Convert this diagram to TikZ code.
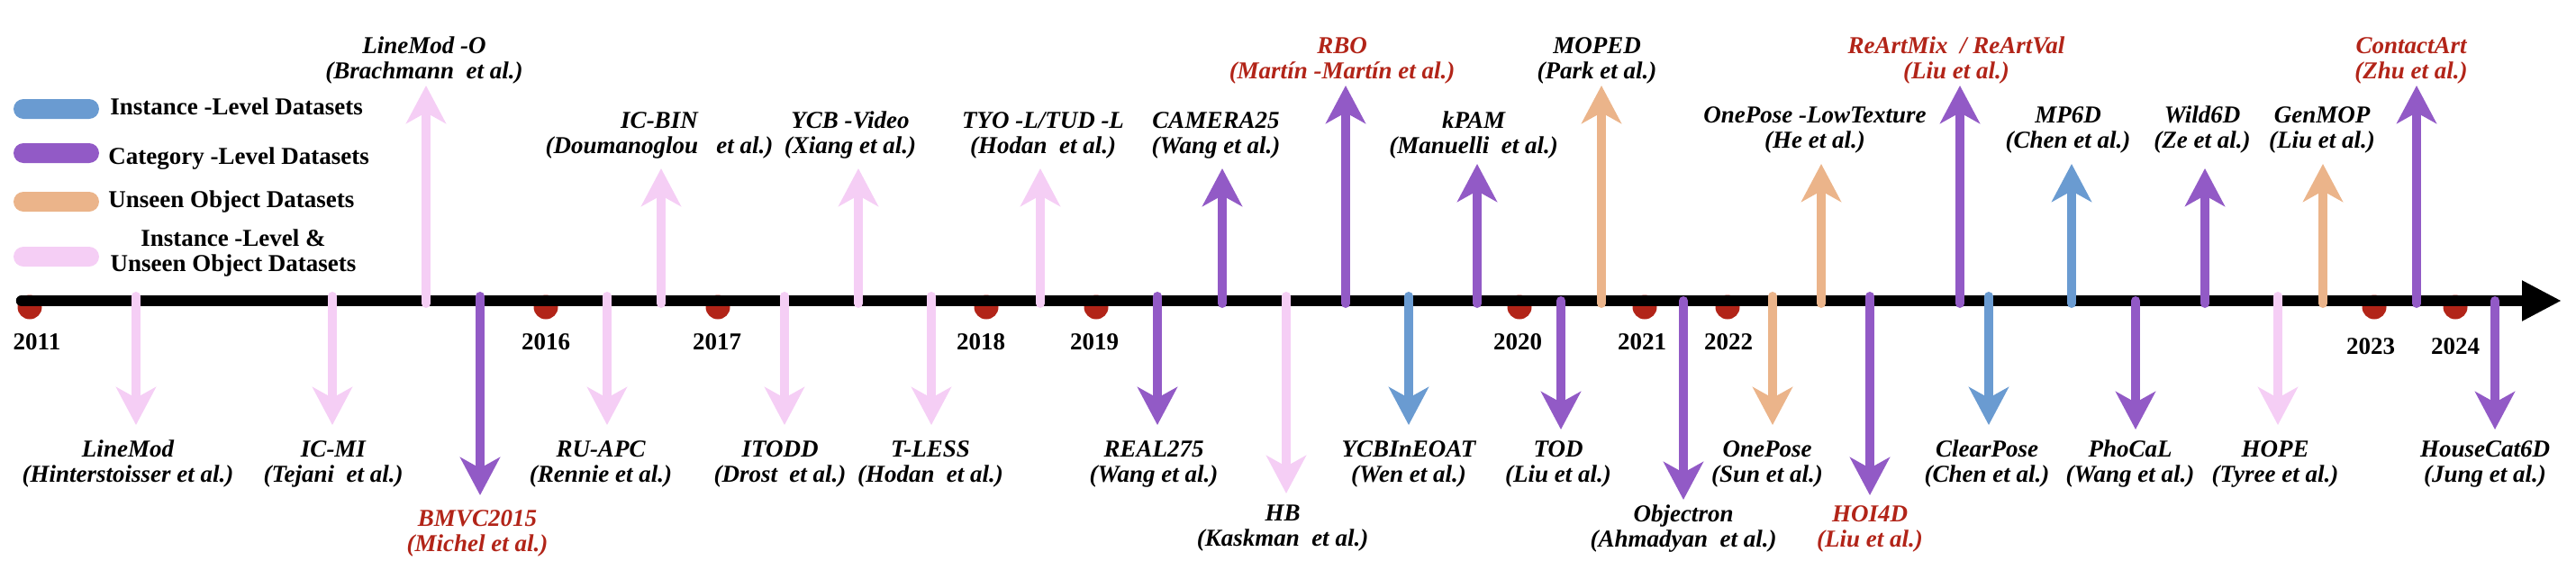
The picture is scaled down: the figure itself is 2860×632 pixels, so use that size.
\documentclass[tikz,border=0pt]{standalone}
\usepackage{fontspec}
\setmainfont{Liberation Serif}
\usetikzlibrary{arrows.meta}
\definecolor{cblue}{HTML}{6A9BD1}
\definecolor{cpurple}{HTML}{925AC6}
\definecolor{corange}{HTML}{EBB48A}
\definecolor{cpink}{HTML}{F5CEF5}
\definecolor{cred}{HTML}{B22418}
\newcommand\DSarrow[5]{%
  \coordinate (#1-b) at (#2,#3);
  \coordinate (#1-t) at (#2,#4);
  \draw[arr,color=#5] (#1-b) -- (#1-t);}
\newcommand\DSlabel[5]{%
  \node[lbl,text=#4] (#1) at (#2,#3) {#5};}
\tikzset{
  arr/.style={line width=5pt, line cap=round, -{Stealth[length=21pt,width=22pt,inset=6pt]}},
  lbl/.style={font=\bfseries\itshape\fontsize{13.5}{14}\selectfont, align=center, inner sep=0pt},
  yr/.style={font=\bfseries\fontsize{13.5}{14}\selectfont, inner sep=0pt},
  leg/.style={font=\bfseries\fontsize{13.5}{14}\selectfont, inner sep=0pt},
  pill/.style={minimum width=47.5pt, minimum height=11pt, rounded corners=5.5pt, inner sep=0pt},
  dot/.style={circle, fill=cred, minimum size=13.5pt, inner sep=0pt},
}
\begin{document}
\begin{tikzpicture}[x=0.5pt,y=-0.5pt]
\useasboundingbox (0,0) rectangle (2860,632);
% year dots
\foreach \n/\x in {d11/33,d16/606,d17/797,d18/1095,d19/1217,d20/1687,d21/1826,d22/1918,d23/2636,d24/2726}
  \node[dot] (\n) at (\x,341) {};
% timeline bar
\coordinate (barL) at (24,334);
\coordinate (barR) at (2844,334);
\draw[line width=6.25pt, line cap=round, -{Triangle[length=22pt,width=21pt]}] (barL) -- (barR);
% years
\foreach \n/\x/\y/\t in {y11/41/380/2011,y16/606/380/2016,y17/796/380/2017,y18/1089/380/2018,y19/1215/380/2019,y20/1685/380/2020,y21/1823/380/2021,y22/1919/380/2022,y23/2632/385/2023,y24/2726/385/2024}
  \node[yr] (\n) at (\x,\y) {\t};
% legend
\node[pill,fill=cblue] (p1) at (62.5,121) {};
\node[pill,fill=cpurple] (p2) at (62.5,170) {};
\node[pill,fill=corange] (p3) at (62.5,224) {};
\node[pill,fill=cpink] (p4) at (62.5,285) {};
\node[leg,anchor=base west] (l1) at (122,127) {Instance -Level Datasets};
\node[leg,anchor=base west] (l2) at (120,182) {Category -Level Datasets};
\node[leg,anchor=base west] (l3) at (120,230) {Unseen Object Datasets};
\node[leg,align=center] (l4) at (259,281) {Instance -Level \&\\Unseen Object Datasets};
% downward arrows
\DSarrow{linemod}{151}{329}{472}{cpink}
\DSarrow{icmi}{369}{329}{472}{cpink}
\DSarrow{bmvc}{533}{329}{550}{cpurple}
\DSarrow{ruapc}{674}{329}{472}{cpink}
\DSarrow{itodd}{871}{329}{472}{cpink}
\DSarrow{tless}{1034}{329}{472}{cpink}
\DSarrow{real}{1285}{329}{472}{cpurple}
\DSarrow{hb}{1428}{329}{548}{cpink}
\DSarrow{ycbin}{1564}{329}{472}{cblue}
\DSarrow{tod}{1733}{334}{477}{cpurple}
\DSarrow{objectron}{1869}{334}{555}{cpurple}
\DSarrow{onepose}{1968}{329}{472}{corange}
\DSarrow{hoi}{2076}{329}{550}{cpurple}
\DSarrow{clearpose}{2208}{329}{472}{cblue}
\DSarrow{phocal}{2371}{334}{477}{cpurple}
\DSarrow{hope}{2529}{329}{472}{cpink}
\DSarrow{housecat}{2770}{334}{477}{cpurple}
% upward arrows
\DSarrow{linemodo}{473}{337}{95}{cpink}
\DSarrow{icbin}{734}{337}{187}{cpink}
\DSarrow{ycbv}{953}{337}{187}{cpink}
\DSarrow{tyo}{1155}{337}{187}{cpink}
\DSarrow{camera}{1357}{337}{187}{cpurple}
\DSarrow{rbo}{1494}{337}{95}{cpurple}
\DSarrow{kpam}{1640}{337}{182}{cpurple}
\DSarrow{moped}{1778}{337}{95}{corange}
\DSarrow{oneposelt}{2022}{337}{182}{corange}
\DSarrow{reart}{2176}{337}{95}{cpurple}
\DSarrow{mpsixd}{2300}{337}{182}{cblue}
\DSarrow{wild}{2448}{337}{187}{cpurple}
\DSarrow{genmop}{2579}{337}{182}{corange}
\DSarrow{contact}{2683}{337}{95}{cpurple}
% labels below
\DSlabel{Llinemod}{142}{515}{black}{LineMod\\(Hinterstoisser et al.)}
\DSlabel{Licmi}{370}{515}{black}{IC-MI\\(Tejani\ \ et al.)}
\DSlabel{Lbmvc}{530}{592}{cred}{BMVC2015\\(Michel et al.)}
\DSlabel{Lruapc}{667}{515}{black}{RU-APC\\(Rennie et al.)}
\DSlabel{Litodd}{866}{515}{black}{ITODD\\(Drost\ \ et al.)}
\DSlabel{Ltless}{1033}{515}{black}{T-LESS\\(Hodan\ \ et al.)}
\DSlabel{Lreal}{1281}{515}{black}{REAL275\\(Wang et al.)}
\DSlabel{Lhb}{1424}{587}{black}{HB\\(Kaskman\ \ et al.)}
\DSlabel{Lycbin}{1564}{515}{black}{YCBInEOAT\\(Wen et al.)}
\DSlabel{Ltod}{1730}{515}{black}{TOD\\(Liu et al.)}
\DSlabel{Lobjectron}{1869}{587}{black}{Objectron\\(Ahmadyan\ \ et al.)}
\DSlabel{Lonepose}{1962}{515}{black}{OnePose\\(Sun et al.)}
\DSlabel{Lhoi}{2076}{587}{cred}{HOI4D\\(Liu et al.)}
\DSlabel{Lclearpose}{2206}{515}{black}{ClearPose\\(Chen et al.)}
\DSlabel{Lphocal}{2365}{515}{black}{PhoCaL\\(Wang et al.)}
\DSlabel{Lhope}{2526}{515}{black}{HOPE\\(Tyree et al.)}
\DSlabel{Lhousecat}{2759}{515}{black}{HouseCat6D\\(Jung et al.)}
% labels above
\DSlabel{Llinemodo}{471}{67}{black}{LineMod -O\\(Brachmann\ \ et al.)}
\DSlabel{Licbin}{732}{150}{black}{IC-BIN\\(Doumanoglou\ \ \ et al.)}
\DSlabel{Lycbv}{944}{150}{black}{YCB -Video\\(Xiang et al.)}
\DSlabel{Ltyo}{1158}{150}{black}{TYO -L/TUD -L\\(Hodan\ \ et al.)}
\DSlabel{Lcamera}{1350}{150}{black}{CAMERA25\\(Wang et al.)}
\DSlabel{Lrbo}{1490}{67}{cred}{RBO\\(Martín -Martín et al.)}
\DSlabel{Lkpam}{1636}{150}{black}{kPAM\\(Manuelli\ \ et al.)}
\DSlabel{Lmoped}{1773}{67}{black}{MOPED\\(Park et al.)}
\DSlabel{Loneposelt}{2015}{144}{black}{OnePose -LowTexture\\(He et al.)}
\DSlabel{Lreart}{2172}{67}{cred}{ReArtMix\ \ / ReArtVal\\(Liu et al.)}
\DSlabel{Lmpsixd}{2296}{144}{black}{MP6D\\(Chen et al.)}
\DSlabel{Lwild}{2445}{144}{black}{Wild6D\\(Ze et al.)}
\DSlabel{Lgenmop}{2578}{144}{black}{GenMOP\\(Liu et al.)}
\DSlabel{Lcontact}{2677}{67}{cred}{ContactArt\\(Zhu et al.)}
\end{tikzpicture}
\end{document}
